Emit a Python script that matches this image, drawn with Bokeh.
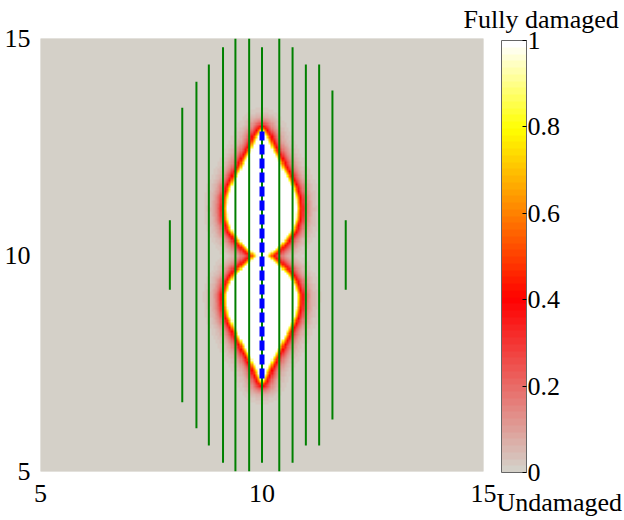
import numpy as np
from bokeh.plotting import figure
from bokeh.models import LinearColorMapper, ColorBar, FixedTicker, CustomJSTickFormatter
from bokeh.embed import file_html
from bokeh.resources import INLINE

FONT = "Liberation Serif"

# ---- data ----
axis_ticks = [5, 10, 15]
cbar_ticks = [0, 0.2, 0.4, 0.6, 0.8, 1.0]
cbar_top_label = "Fully damaged"
cbar_bottom_label = "Undamaged"

# crack (blue dashed)
crack_x = [10.0]
crack_y0 = [7.15]
crack_y1 = [12.85]

# outline of the fully damaged zone around the crack: y and half-width
zone_y = [7.10, 7.22, 7.45, 7.68, 7.91, 8.14, 8.37, 8.60, 8.83, 9.06, 9.30, 9.53, 9.76,
          9.99, 10.14, 10.37, 10.61, 10.84, 11.07, 11.30, 11.53, 11.76, 11.99, 12.22,
          12.45, 12.68, 12.85]
zone_halfwidth = [0.0, 0.05, 0.15, 0.27, 0.39, 0.51, 0.62, 0.73, 0.78, 0.79, 0.72, 0.58, 0.34,
                  0.10, 0.30, 0.51, 0.68, 0.76, 0.78, 0.76, 0.69, 0.58, 0.45, 0.34,
                  0.21, 0.11, 0.0]
fade_length = 0.13

# green vertical lines
line_x = [7.92, 8.20, 8.52, 8.80, 9.12, 9.40, 9.71, 10.0, 10.39, 10.69, 10.99, 11.29, 11.59, 11.89]
line_y0 = [9.2, 6.6, 6.0, 5.6, 5.2, 5.0, 5.0, 5.2, 5.0, 5.2, 5.6, 5.6, 6.2, 9.2]
line_y1 = [10.8, 13.4, 14.0, 14.4, 14.8, 15.0, 15.0, 14.8, 15.0, 14.8, 14.4, 14.4, 13.8, 10.8]

# colormap anchors
cmap_stops = [0.0, 0.4, 0.8, 1.0]
cmap_r = [212, 255, 255, 255]
cmap_g = [208, 0, 255, 255]
cmap_b = [200, 0, 0, 255]

# ---- build palette ----
t = np.linspace(0, 1, 64)
palette = []
for v in t:
    r = int(round(np.interp(v, cmap_stops, cmap_r)))
    g = int(round(np.interp(v, cmap_stops, cmap_g)))
    b = int(round(np.interp(v, cmap_stops, cmap_b)))
    palette.append("#%02x%02x%02x" % (r, g, b))
mapper = LinearColorMapper(palette=palette, low=0, high=1)

# ---- damage field from the outline ----
n = 200
cell = 10.0 / n
xc = 5 + cell * (np.arange(n) + 0.5)
yc = 5 + cell * (np.arange(n) + 0.5)
X, Y = np.meshgrid(xc, yc)
yb = np.linspace(zone_y[0], zone_y[-1], 600)
hb = np.interp(yb, zone_y, zone_halfwidth)
bx = np.concatenate([crack_x[0] - hb, crack_x[0] + hb])
by = np.concatenate([yb, yb])
H = np.interp(Y, zone_y, zone_halfwidth, left=-1, right=-1)
inside = np.abs(X - crack_x[0]) <= H
dmin = np.empty_like(X)
for i in range(n):
    dx = X[i][:, None] - bx[None, :]
    dy = Y[i][:, None] - by[None, :]
    dmin[i] = np.sqrt(dx * dx + dy * dy).min(axis=1)
damage = np.where(inside, 1.0, np.exp(-dmin / fade_length))

# ---- figure ----
p = figure(width=624, height=520, x_range=(5, 15), y_range=(5, 15),
           output_backend="svg", toolbar_location=None,
           min_border_left=40, min_border_right=141, min_border_top=38, min_border_bottom=49)
p.image(image=[damage], x=5, y=5, dw=10, dh=10, color_mapper=mapper)
p.segment(x0=line_x, y0=line_y0, x1=line_x, y1=line_y1, line_color="#008000", line_width=2)
p.segment(x0=crack_x, y0=crack_y0, x1=crack_x, y1=crack_y1, line_color="#0000ff",
          line_width=5, line_dash="10 4")

p.grid.visible = False
p.outline_line_color = None
p.background_fill_color = "#d4d0c8"
for ax in (p.xaxis, p.yaxis):
    ax.ticker = axis_ticks
    ax.axis_line_color = None
    ax.major_tick_line_color = None
    ax.minor_tick_line_color = None
    ax.major_label_text_font = FONT
    ax.major_label_text_font_size = "26px"
    ax.major_label_text_color = "black"
p.yaxis.major_label_standoff = 4
p.xaxis.major_label_standoff = 7

cb = ColorBar(color_mapper=mapper, ticker=FixedTicker(ticks=cbar_ticks),
              formatter=CustomJSTickFormatter(code="return String(Math.round(tick*10)/10)"),
              orientation="vertical",
              width=25, height=432, location=(461, -1), padding=0, margin=0,
              major_label_text_font=FONT, major_label_text_font_size="26px",
              major_label_text_color="black", label_standoff=1,
              major_tick_in=4, major_tick_out=0, major_tick_line_color="black",
              bar_line_color="#666666", bar_line_width=1,
              border_line_color=None, background_fill_alpha=0)
p.add_layout(cb)


def caption(text, tick, loc):
    # a hidden colour-bar stub whose single tick label carries a caption outside the frame
    return ColorBar(color_mapper=mapper, ticker=FixedTicker(ticks=[tick]),
                    formatter=CustomJSTickFormatter(args=dict(txt=text), code="return txt"),
                    orientation="vertical", width=2, height=4,
                    location=loc, padding=0, margin=0, scale_alpha=0,
                    bar_line_color=None, major_tick_line_color=None,
                    major_tick_in=0, major_tick_out=0, label_standoff=0,
                    border_line_color=None, background_fill_alpha=0,
                    major_label_text_font=FONT, major_label_text_font_size="26px",
                    major_label_text_color="black")


p.add_layout(caption(cbar_top_label, 1, (421, 448)))
p.add_layout(caption(cbar_bottom_label, 0, (454, -31)))

open("out.html", "w").write(file_html(p, INLINE))
